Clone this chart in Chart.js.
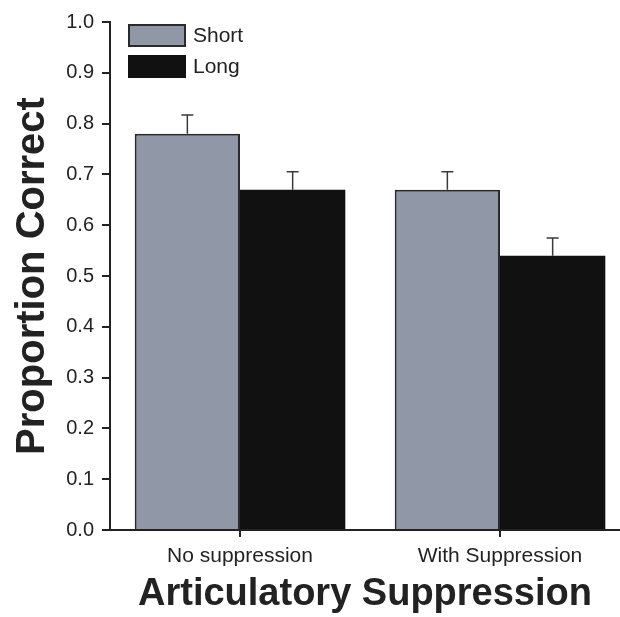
<!DOCTYPE html>
<html>
<head>
<meta charset="utf-8">
<script src="https://cdn.jsdelivr.net/npm/chart.js@4"></script>
<style>
  html, body { margin: 0; padding: 0; background: #fff; overflow: hidden; }
  #wrap { width: 620px; height: 617px; }
</style>
</head>
<body>
<div id="wrap"><canvas id="recallChart"></canvas></div>
<script>
// conditions and mean proportion correct per list length
const categories = ['No suppression', 'With Suppression'];
const seriesNames = ['Short', 'Long'];
const shortValues = [0.78, 0.67];
const longValues = [0.67, 0.54];
// standard errors (drawn upward only)
const shortErrors = [0.037, 0.035];
const longErrors = [0.035, 0.035];

const font = '"Liberation Sans", Arial, sans-serif';

// bars sit on a numeric x axis so the last group can run to the canvas edge
const toPoints = vals => vals.map((v, i) => ({ x: i, y: v }));

// upward error bars with a small cap
const errorBars = {
  id: 'errorBars',
  afterDatasetsDraw(chart) {
    const ctx = chart.ctx;
    const y = chart.scales.y;
    ctx.save();
    ctx.strokeStyle = '#3a3a3a';
    ctx.lineWidth = 1.5;
    chart.data.datasets.forEach((ds, i) => {
      const meta = chart.getDatasetMeta(i);
      meta.data.forEach((bar, j) => {
        const top = y.getPixelForValue(ds.data[j].y + ds.errors[j]);
        ctx.beginPath();
        ctx.moveTo(bar.x, bar.y);
        ctx.lineTo(bar.x, top);
        ctx.moveTo(bar.x - 6, top);
        ctx.lineTo(bar.x + 6, top);
        ctx.stroke();
      });
    });
    ctx.restore();
  }
};

// legend boxes sitting inside the plot, top left
const innerLegend = {
  id: 'innerLegend',
  afterDraw(chart) {
    const ctx = chart.ctx;
    const x0 = chart.chartArea.left + 18;
    const rows = [24, 55];
    ctx.save();
    chart.data.datasets.forEach((ds, i) => {
      const yTop = rows[i];
      ctx.fillStyle = ds.backgroundColor;
      ctx.fillRect(x0, yTop, 58, 23);
      if (ds.borderWidth) {
        ctx.strokeStyle = '#2a2a2a';
        ctx.lineWidth = 2;
        ctx.strokeRect(x0 + 1, yTop + 1, 56, 21);
      }
      ctx.fillStyle = '#222';
      ctx.font = '21px ' + font;
      ctx.textBaseline = 'middle';
      ctx.textAlign = 'left';
      ctx.fillText(ds.label, x0 + 65, yTop + 12);
    });
    ctx.restore();
  }
};

new Chart(document.getElementById('recallChart'), {
  type: 'bar',
  data: {
    datasets: [
      {
        label: seriesNames[0],
        data: toPoints(shortValues),
        errors: shortErrors,
        backgroundColor: '#9098a8',
        borderColor: '#2a2a2a',
        borderWidth: 2
      },
      {
        label: seriesNames[1],
        data: toPoints(longValues),
        errors: longErrors,
        backgroundColor: '#111111',
        borderWidth: 0
      }
    ]
  },
  plugins: [errorBars, innerLegend],
  options: {
    responsive: true,
    maintainAspectRatio: false,
    animation: false,
    layout: { padding: { top: 22, right: 0, left: 0, bottom: 0 } },
    datasets: { bar: { categoryPercentage: 0.81, barPercentage: 1.0 } },
    plugins: { legend: { display: false }, tooltip: { enabled: false } },
    scales: {
      x: {
        type: 'linear',
        offset: false,
        min: -0.5,
        max: 1.4615,
        grid: { display: true, drawOnChartArea: false, offset: false, tickLength: 7, color: '#222', lineWidth: 2 },
        border: { display: true, color: '#222', width: 2 },
        afterBuildTicks(scale) {
          scale.ticks = categories.map((c, i) => ({ value: i }));
        },
        ticks: {
          color: '#222',
          font: { family: font, size: 21 },
          padding: 7,
          autoSkip: false,
          maxRotation: 0,
          callback: v => categories[v]
        },
        title: {
          display: true,
          text: 'Articulatory Suppression',
          color: '#222',
          font: { family: font, size: 38, weight: 'bold' },
          padding: { top: 0, bottom: 0 }
        },
        afterFit(scale) { scale.height = 87; }
      },
      y: {
        min: 0,
        max: 1,
        grid: { display: true, drawOnChartArea: false, tickLength: 8, color: '#222', lineWidth: 2 },
        border: { display: true, color: '#222', width: 2 },
        ticks: {
          stepSize: 0.1,
          color: '#222',
          font: { family: font, size: 20 },
          padding: 8,
          callback: v => v.toFixed(1)
        },
        title: {
          display: true,
          text: 'Proportion Correct',
          color: '#222',
          font: { family: font, size: 40, weight: 'bold' },
          padding: { top: 9, bottom: 0 }
        },
        afterFit(scale) { scale.width = 110; }
      }
    }
  }
});
</script>
</body>
</html>
